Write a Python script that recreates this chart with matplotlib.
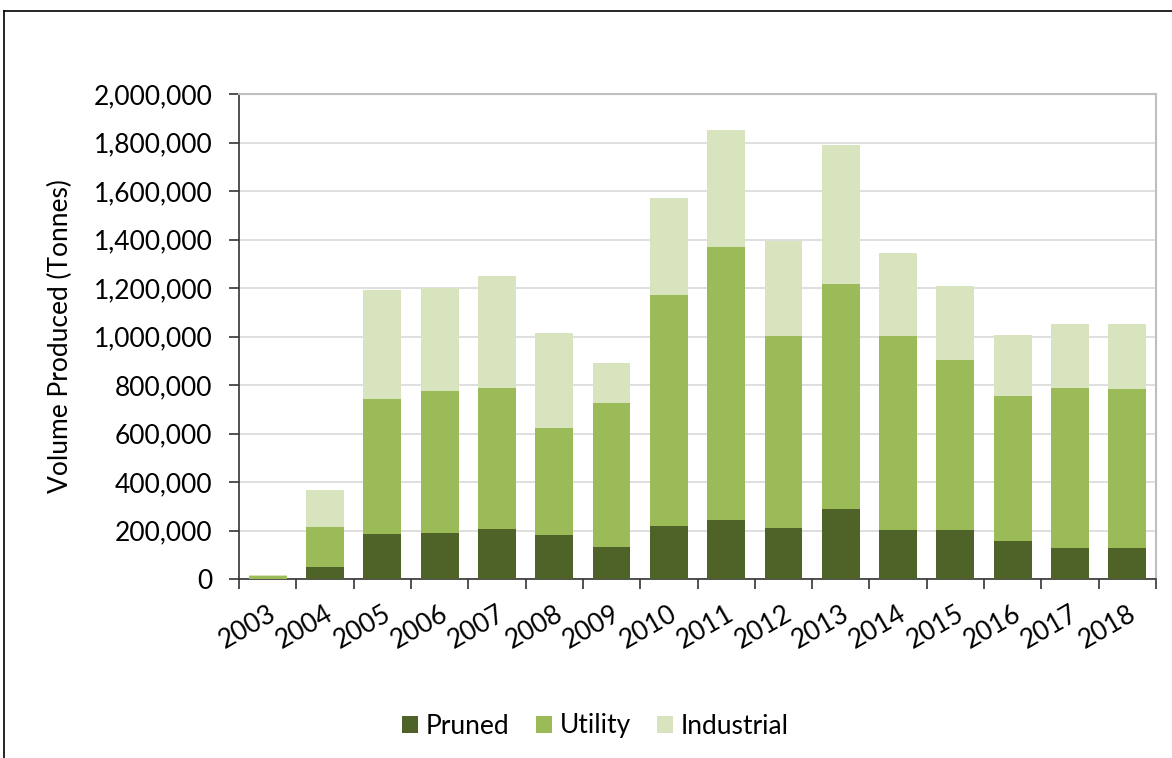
import matplotlib.pyplot as plt
from matplotlib.lines import Line2D
import numpy as np

years = ["2003", "2004", "2005", "2006", "2007", "2008", "2009", "2010",
         "2011", "2012", "2013", "2014", "2015", "2016", "2017", "2018"]
pruned = [2000, 50000, 186000, 190000, 206000, 181000, 132000, 219000,
          243000, 210000, 289000, 202000, 202000, 157000, 128000, 128000]
utility = [12000, 164000, 556000, 585000, 582000, 442000, 594000, 952000,
           1126000, 792000, 927000, 800000, 701000, 598000, 660000, 656000]
industrial = [3000, 153000, 450000, 425000, 462000, 391000, 165000, 400000,
              483000, 392000, 574000, 342000, 305000, 251000, 264000, 268000]

plt.rcParams['font.family'] = ['Lato', 'DejaVu Sans']
fs = 19

fig = plt.figure(figsize=(11.72, 7.58), dpi=100)
ax = fig.add_axes([239/1172, 1 - 579/758, (1156-239)/1172, (579-94)/758])

x = np.arange(len(years))
w = 0.66
ax.bar(x, pruned, w, color="#4F6228", label="Pruned", zorder=3)
ax.bar(x, utility, w, bottom=pruned, color="#9BBB59", label="Utility", zorder=3)
bot2 = np.array(pruned) + np.array(utility)
ax.bar(x, industrial, w, bottom=bot2, color="#D7E4BD", label="Industrial", zorder=3)

ax.set_ylim(0, 2000000)
ax.set_xlim(-0.5, len(years) - 0.5)
ax.set_yticks(np.arange(0, 2000001, 200000))
ax.yaxis.set_major_formatter(plt.FuncFormatter(lambda v, p: f"{int(v):,}"))
ax.grid(axis="y", color="#D9D9D9", linewidth=1.2, zorder=0)

ax.set_xticks(x)
ax.set_xticklabels(years, rotation=30, ha="right", rotation_mode="anchor", fontsize=fs)
ax.set_xticks(np.arange(-0.5, len(years)), minor=True)
ax.tick_params(axis="x", which="major", length=0, pad=16)
ax.tick_params(axis="x", which="minor", length=7, width=1.2, color="#333333", direction="out")
ax.tick_params(axis="y", length=7, width=1.2, color="#333333", labelsize=fs, pad=12)

for s in ["top", "right"]:
    ax.spines[s].set_color("#BFBFBF")
    ax.spines[s].set_linewidth(1.5)
for s in ["left", "bottom"]:
    ax.spines[s].set_color("#333333")
    ax.spines[s].set_linewidth(1.2)

ax.set_ylabel("Volume Produced (Tonnes)", fontsize=fs, labelpad=15)

fig.legend(loc="center", bbox_to_anchor=(0.508, 1 - 726/758), ncol=3, frameon=False,
           fontsize=fs, handlelength=0.6, handleheight=0.6, handletextpad=0.3,
           columnspacing=1.0)

# outer chart border
fig.add_artist(Line2D([4/1172, 4/1172], [0, 1 - 11/758], color="black", lw=1.2,
                      transform=fig.transFigure))
fig.add_artist(Line2D([4/1172, 1], [1 - 11/758, 1 - 11/758], color="black", lw=1.2,
                      transform=fig.transFigure))

fig.savefig("out.png", dpi=100)
